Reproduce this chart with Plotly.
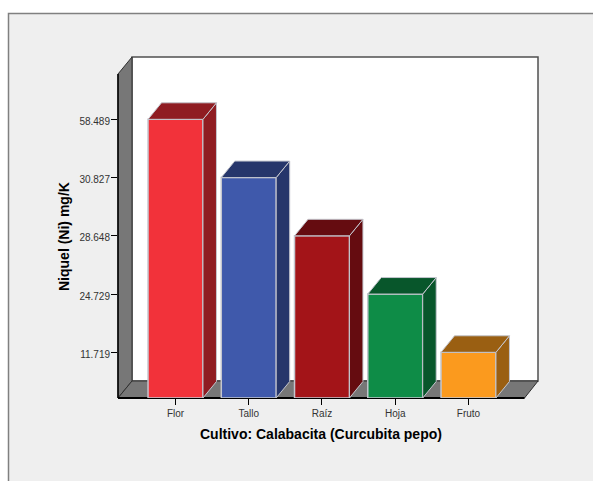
import plotly.graph_objects as go

categories = ["Flor", "Tallo", "Raíz", "Hoja", "Fruto"]
niquel = [58.489, 30.827, 28.648, 24.729, 11.719]
front_colors = ["#F2323A", "#3F59AB", "#A31418", "#0E8C47", "#FB9A1E"]
side_colors = ["#8F1C22", "#26366B", "#650C10", "#08562B", "#9A5F12"]
edge_color = "#C4C6CE"

W, H = 593, 481
L, R, T, B = 118, 538, 57, 398   # plot area in pixels

# The value axis of the source is ordinal: equal steps between sorted values
ordered = sorted(niquel)
rank = [ordered.index(v) + 1 for v in niquel]
tick_text = [f"{v:.3f}" for v in ordered]

BASE = 0.2155
X_RANGE = [-0.785, 4.949]
Y_RANGE = [BASE, 6.07]
DX, DY = 0.1843, 0.2835
BAR_W = 0.75


def px(x):
    return (x - L) / (R - L)


def py(y):
    return (B - y) / (B - T)


fig = go.Figure()

# side and top faces
for i, (c, r) in enumerate(zip(side_colors, rank)):
    x0, x1 = i - BAR_W / 2, i + BAR_W / 2
    fig.add_trace(go.Scatter(
        x=[x1, x1 + DX, x1 + DX, x1, x1],
        y=[BASE, BASE + DY, r + DY, r, BASE],
        mode="lines", fill="toself", fillcolor=c,
        line=dict(color=edge_color, width=1), hoverinfo="skip", showlegend=False))
    fig.add_trace(go.Scatter(
        x=[x0, x0 + DX, x1 + DX, x1, x0],
        y=[r, r + DY, r + DY, r, r],
        mode="lines", fill="toself", fillcolor=c,
        line=dict(color=edge_color, width=1), hoverinfo="skip", showlegend=False))

# front faces
fig.add_trace(go.Bar(
    x=list(range(len(categories))),
    y=[r - BASE for r in rank],
    base=BASE,
    width=BAR_W,
    marker=dict(color=front_colors, line=dict(color=edge_color, width=1.5)),
    customdata=niquel,
    hovertemplate="%{customdata}<extra></extra>",
    showlegend=False,
    cliponaxis=False,
))

shapes = [
    # panel
    dict(type="rect", xref="paper", yref="paper",
         x0=px(8.5), x1=px(W + 5), y0=py(H + 5), y1=py(13.5),
         fillcolor="#EFEFEF", line=dict(color="#808080", width=1.5), layer="below"),
    # back wall
    dict(type="rect", xref="paper", yref="paper",
         x0=px(132), x1=px(538), y0=py(381), y1=py(57),
         fillcolor="#FFFFFF", line=dict(color="#505050", width=1.5), layer="below"),
    # left wall
    dict(type="path", xref="paper", yref="paper",
         path=f"M{px(118)},{py(398)} L{px(118)},{py(74)} L{px(132)},{py(57)} L{px(132)},{py(381)} Z",
         fillcolor="#777777", line=dict(color="#303030", width=1), layer="below"),
    # floor
    dict(type="path", xref="paper", yref="paper",
         path=f"M{px(118)},{py(398)} L{px(132)},{py(381)} L{px(538)},{py(381)} L{px(524.5)},{py(398)} Z",
         fillcolor="#777777", line=dict(color="#303030", width=1), layer="below"),
    # front edges
    dict(type="line", xref="paper", yref="paper",
         x0=px(118), x1=px(524.5), y0=py(398), y1=py(398),
         line=dict(color="#000000", width=2), layer="below"),
    dict(type="line", xref="paper", yref="paper",
         x0=px(118), x1=px(118), y0=py(398), y1=py(74),
         line=dict(color="#000000", width=1.5), layer="below"),
]

annotations = [
    dict(text="<b>Cultivo: Calabacita (Curcubita pepo)</b>", xref="paper", yref="paper",
         x=px(321), y=py(434), showarrow=False, xanchor="center", yanchor="middle",
         font=dict(family="Liberation Sans", size=14, color="#000000")),
    dict(text="<b>Niquel (Ni) mg/K</b>", xref="paper", yref="paper", textangle=-90,
         x=px(64), y=py(237), showarrow=False, xanchor="center", yanchor="middle",
         font=dict(family="Liberation Sans", size=14, color="#000000")),
]

fig.update_layout(
    width=W, height=H,
    margin=dict(l=L, r=W - R, t=T, b=H - B, pad=0),
    paper_bgcolor="#FFFFFF",
    plot_bgcolor="rgba(0,0,0,0)",
    shapes=shapes,
    annotations=annotations,
    showlegend=False,
    font=dict(family="Liberation Sans", size=10, color="#333333"),
    xaxis=dict(range=X_RANGE, tickmode="array", tickvals=list(range(len(categories))),
               ticktext=categories, ticks="outside", ticklen=6, tickwidth=1,
               tickcolor="#000000", showgrid=False, zeroline=False, showline=False,
               tickfont=dict(size=10, color="#333333"), fixedrange=True),
    yaxis=dict(range=Y_RANGE, tickmode="array", tickvals=sorted(rank),
               ticktext=tick_text, ticks="outside", ticklen=6, tickwidth=1,
               tickcolor="#000000", showgrid=False, zeroline=False, showline=False,
               ticklabelshift=2, ticklabelstandoff=-1,
               tickfont=dict(size=10, color="#333333"), fixedrange=True),
)

fig.write_html("out.html", config={"displayModeBar": False},
               post_script="document.body.style.margin='0';document.documentElement.style.overflow='hidden';")
